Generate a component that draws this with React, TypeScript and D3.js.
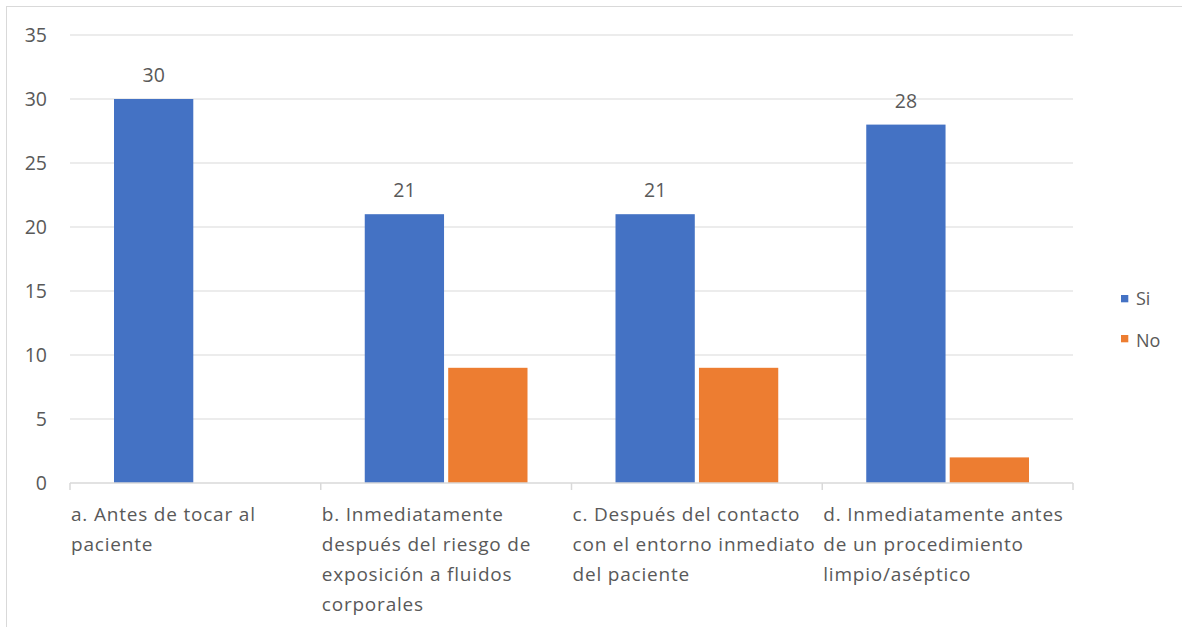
import React from "react";
import * as d3 from "d3";

const categories = [
  ["a. Antes de tocar al", "paciente"],
  ["b. Inmediatamente", "después del riesgo de", "exposición a fluidos", "corporales"],
  ["c. Después del contacto", "con el entorno inmediato", "del paciente"],
  ["d. Inmediatamente antes", "de un procedimiento", "limpio/aséptico"],
];
const seriesNames = ["Si", "No"];
const siValues = [30, 21, 21, 28];
const noValues = [0, 9, 9, 2];
const yTicks = [0, 5, 10, 15, 20, 25, 30, 35];
const colors = ["#4472C4", "#ED7D31"];

const W = 1182;
const H = 627;
const left = 70;
const right = 1073;
const top = 35;
const bottom = 483;
const font = "'Open Sans', sans-serif";
const textColor = "#595959";
const gridColor = "#d9d9d9";

export default function App() {
  const y = d3.scaleLinear().domain([0, 35]).range([bottom, top]);
  const x0 = d3.scaleBand<number>().domain(d3.range(categories.length)).range([left, right]).padding(0);
  const bw = x0.bandwidth();
  const x1 = d3.scaleBand<number>().domain([0, 1]).range([44, bw - 44]).paddingInner(0.05);
  const series = [siValues, noValues];

  return (
    <svg width={W} height={H} style={{ position: "absolute", left: 0, top: 0, fontFamily: font }}>
      <rect x={0} y={0} width={W} height={H} fill="#fff" />
      <rect x={6.5} y={6.5} width={W + 10} height={H + 10} fill="none" stroke={gridColor} strokeWidth={1} />
      {yTicks.map((t) => (
        <g key={t}>
          {t > 0 && <line x1={left} x2={right} y1={y(t)} y2={y(t)} stroke={gridColor} strokeWidth={1} />}
          <text x={47} y={y(t)} dy="0.36em" textAnchor="end" fontSize={19.5} fill={textColor}>
            {t}
          </text>
        </g>
      ))}
      {series.map((vals, si) =>
        vals.map((v, i) =>
          v > 0 ? (
            <rect
              key={`${si}-${i}`}
              x={(x0(i) as number) + (x1(si) as number)}
              y={y(v)}
              width={x1.bandwidth()}
              height={bottom - y(v)}
              fill={colors[si]}
            />
          ) : null
        )
      )}
      {siValues.map((v, i) => (
        <text
          key={`l${i}`}
          x={(x0(i) as number) + (x1(0) as number) + x1.bandwidth() / 2}
          y={y(v) - 24}
          dy="0.36em"
          textAnchor="middle"
          fontSize={19.5}
          fill={textColor}
        >
          {v}
        </text>
      ))}
      <line x1={left} x2={right} y1={bottom} y2={bottom} stroke={gridColor} strokeWidth={1.5} />
      {d3.range(categories.length + 1).map((i) => {
        const xx = left + i * bw;
        return <line key={`t${i}`} x1={xx} x2={xx} y1={bottom} y2={bottom + 7} stroke={gridColor} strokeWidth={1.5} />;
      })}
      {categories.map((lines, i) => (
        <text key={`c${i}`} fontSize={19} letterSpacing={0.8} fill={textColor}>
          {lines.map((ln, j) => (
            <tspan key={j} x={(x0(i) as number) + 1} y={520.5 + j * 30}>
              {ln}
            </tspan>
          ))}
        </text>
      ))}
      {seriesNames.map((n, i) => (
        <g key={n}>
          <rect x={1121} y={295 + i * 40} width={7.3} height={7.3} fill={colors[i]} />
          <text x={1136} y={304.5 + i * 42.5} fontSize={18} fill={textColor}>
            {n}
          </text>
        </g>
      ))}
    </svg>
  );
}
